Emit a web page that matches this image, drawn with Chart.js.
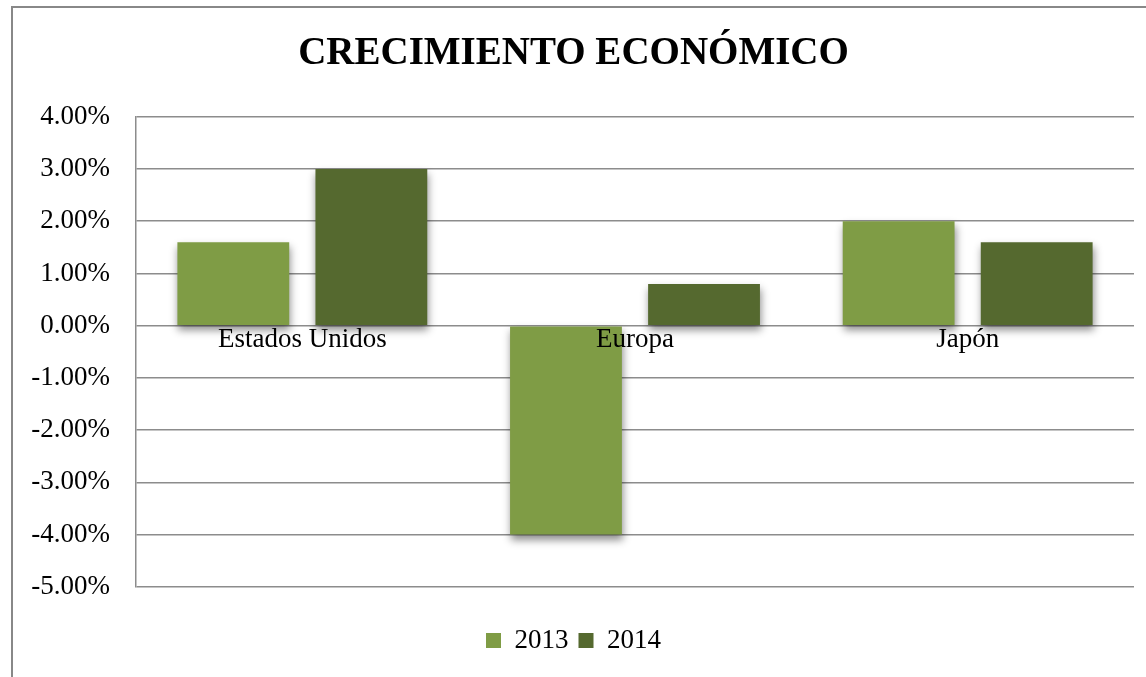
<!DOCTYPE html>
<html>
<head>
<meta charset="utf-8">
<script src="https://cdn.jsdelivr.net/npm/chart.js@4"></script>
<style>
  html, body { margin: 0; padding: 0; background: #fff; overflow: hidden; }
  #marco {
    position: absolute; left: 11px; top: 6px;
    width: 1135px; height: 671px;
    border-left: 2px solid #888; border-top: 2px solid #888;
  }
  #grafico { display: block; }
</style>
</head>
<body>
<div id="marco"><canvas id="grafico" width="1133" height="669"></canvas></div>
<script>
// Datos del grafico
var regiones = ['Estados Unidos', 'Europa', 'Japón'];
var anios = ['2013', '2014'];
var crecimiento2013 = [1.6, -4.0, 2.0];
var crecimiento2014 = [3.0, 0.8, 1.6];
var ejeMin = -5, ejeMax = 4, ejePaso = 1;

var verdeClaro = '#7f9c45';
var verdeOscuro = '#55692f';
var gris = '#8c8c8c';
var fuente = "'Liberation Serif', 'DejaVu Serif', serif";

// sombra suave debajo de las barras
var sombra = {
    id: 'sombra',
    beforeDatasetDraw: function (chart) {
        var ctx = chart.ctx;
        ctx.save();
        ctx.shadowColor = 'rgba(0,0,0,0.45)';
        ctx.shadowBlur = 8;
        ctx.shadowOffsetX = 1;
        ctx.shadowOffsetY = 5;
    },
    afterDatasetDraw: function (chart) {
        chart.ctx.restore();
    }
};

var config = {
    type: 'bar',
    data: {
        labels: regiones,
        datasets: [{
            label: anios[0],
            data: crecimiento2013,
            backgroundColor: verdeClaro,
            borderWidth: 0
        }, {
            label: anios[1],
            data: crecimiento2014,
            backgroundColor: verdeOscuro,
            borderWidth: 0
        }]
    },
    plugins: [sombra],
    options: {
        responsive: false,
        animation: false,
        categoryPercentage: 0.83,
        barPercentage: 0.81,
        layout: { padding: { left: 0, right: 12, top: 0, bottom: 13 } },
        plugins: {
            title: {
                display: true,
                text: 'CRECIMIENTO ECONÓMICO',
                color: '#000',
                font: { family: fuente, size: 39, weight: 'bold', lineHeight: 1.2 },
                padding: { top: 23, bottom: 39 }
            },
            legend: {
                position: 'bottom',
                title: {
                    display: true,
                    text: '',
                    font: { size: 1 },
                    padding: { top: 29, bottom: 0 }
                },
                labels: {
                    color: '#000',
                    font: { family: fuente, size: 27 },
                    boxWidth: 15,
                    boxHeight: 15,
                    padding: 10
                }
            },
            tooltip: { enabled: false }
        },
        scales: {
            x: {
                position: { y: 0 },
                grid: { display: false, drawTicks: false },
                border: { display: false },
                ticks: {
                    z: 1,
                    color: '#000',
                    font: { family: fuente, size: 27 },
                    padding: -2,
                    maxRotation: 0
                }
            },
            y: {
                min: ejeMin,
                max: ejeMax,
                afterFit: function (scale) { scale.width = 123; },
                grid: { color: gris, lineWidth: 1.5, drawTicks: false },
                border: { display: true, color: gris, width: 1.5 },
                ticks: {
                    stepSize: ejePaso,
                    color: '#000',
                    padding: 26,
                    font: { family: fuente, size: 27 },
                    callback: function (value) {
                        return value.toFixed(2) + '%';
                    }
                }
            }
        }
    }
};

var grafico = new Chart(document.getElementById('grafico'), config);
</script>
</body>
</html>
